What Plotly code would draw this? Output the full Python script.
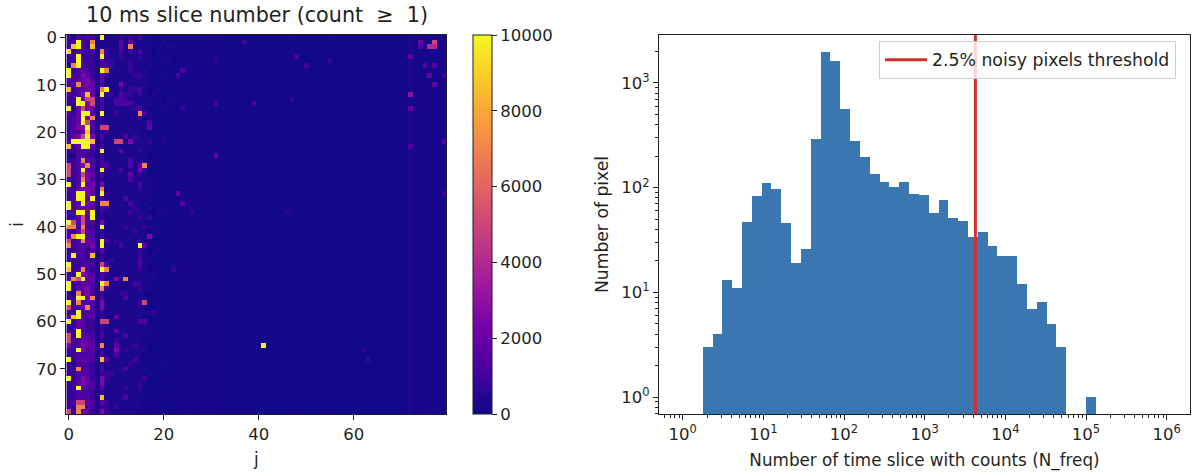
import plotly.graph_objects as go

FONT = "DejaVu Sans"
INK = "#1f1f1f"

# Heatmap: one string per row i, one character per column j (first 24 columns),
# each character is an index into level_values
level_values = [100, 300, 800, 1300, 1800, 2500, 5000, 7000, 8500, 9300, 10000]
heat_rows = [
    "213233 1a1112121301000100", "23a3271111141411 01001000", "28a3281111141711 11010110", "9233231721131213 11010000",
    "22a2221a21121112 11001100", "22a3221322111211 11000100", "17a3221332111211 01001000", "a234321a71111211 10100000",
    "a335421421111122 10001003", "3344531411111111 11010011", "2374541311151111 10000100", "82344417a1121223 10010000",
    "3235841a22132212 10100100", "22a4661311332111 10010100", "22aa561311333311 11000110", "a146541211111123 10001000",
    "324aa41a11211117 31000100", "234a571211111112 01100000", "234a631211111111 13000010", "2355a31661111111 14100000",
    "2334831221111111 00000000", "2456a51311113121 10011000", "3aaaa81211661511 12001000", "824aa41311111111 11000000",
    "2233321a11141112 01010000", "1133221211111111 10000100", "2237331311111311 10100000", "6235731331111314 71000100",
    "623a431a21131115 20001000", "6236541311111412 10010000", "2237531211111311 10001000", "a23a451511111113 01000000",
    "3245541711111112 10010100", "23aa541a21111111 11000004", "23aa4a1311113111 01001000", "a34a541771111311 10000000",
    "a344441321111121 01000100", "23aa4a1211111211 10011000", "22463a1211111112 12010000", "a636331511111111 00000000",
    "7737321a11112111 21100000", "3246331211111121 10110000", "37aa331211111111 15000000", "6237441a31211112 11000000",
    "7233351a1113111a 41000010", "2233231411111112 10010000", "2a33281211111112 10100000", "2223221212111113 11000010",
    "a223331631111113 10010000", "8237321a71111112 10000020", "22a5431321111111 10100100", "376a441311517111 11100000",
    "a234431a71111132 10001000", "a244531721111112 11000000", "2174531211122111 00010000", "22aa471311113111 10000000",
    "a273331511111112 60010000", "6234731511111111 10010000", "22a3331211111111 11200000", "38a4341211411111 00000100",
    "a244221661111113 30000000", "2243221211111111 10100000", "22a3221211411111 01000000", "62a4331311113111 11000000",
    "6234431211211111 00100000", "5235441711411121 10000100", "22a5341211512111 10000000", "2233331311311111 01001000",
    "a234431841111131 00100000", "2133321211111211 00001000", "2273321311113111 10000100", "2233321222111111 01000000",
    "a235421521111111 20000100", "2245431511111112 10001000", "22a4331411112112 00100000", "2233321211111111 00001000",
    "2233321811113111 10000100", "2366431421111111 01000000", "2277331221211111 00100000", "6274421521111111 00010000",
]

# Faint level of each column from j=24 to j=79 (the vertical stripes)
far_column_level = [180, 170, 170, 160, 180, 170, 170, 260, 150, 140, 130, 130, 140, 150, 130, 150, 120, 110, 110, 110,
                    110, 110, 120, 190, 110, 110, 110, 100, 100, 100, 110, 170, 100, 100, 100, 100, 100, 100, 110, 100,
                    100, 110, 100, 100, 110, 110, 120, 130, 290, 150, 190, 170, 210, 220, 190, 210]

# Scattered brighter pixels further right
far_i = [1, 2, 2, 1, 2, 4, 12, 15, 6, 6, 8, 10, 8, 4, 6, 5, 1, 5, 14, 25, 14, 7, 15, 35, 22, 23, 33, 13, 37, 37, 68, 66, 65]
far_j = [77, 76, 77, 74, 74, 72, 72, 72, 75, 77, 76, 77, 79, 48, 50, 55, 37, 31, 31, 31, 39, 24, 24, 24, 79, 72, 79, 47, 46, 26, 63, 62, 41]
far_val = [5000, 4000, 4000, 2000, 1500, 1800, 3000, 2000, 1500, 1500, 1800, 1800, 1000, 1200, 1000, 800, 1000, 800, 1100,
           1800, 1200, 1200, 800, 1500, 1200, 1500, 900, 700, 600, 600, 900, 700, 10000]

# Histogram of N_freq
bin_edges = [1.77, 2.34, 3.10, 4.11, 5.44, 7.19, 9.52, 12.6, 16.7, 22.1, 29.2, 38.7, 51.2, 67.8, 89.8, 118.9, 157.3, 208.2,
             275.7, 364.9, 483.1, 639.3, 846.3, 1120, 1483, 1963, 2599, 3440, 4554, 6029, 7980, 10563, 13982, 18513, 24506,
             32434, 42934, 56832, 75229, 99585, 131826]
bin_counts = [3, 4, 13, 11, 47, 83, 110, 98, 46, 19, 26, 291, 1985, 1620, 567, 280, 197, 136, 114, 102, 112, 87, 85,
              57, 77, 51, 48, 34, 38, 28, 22, 22, 12, 7, 8, 5, 3, 0, 0, 1]
threshold = 4250

z = []
for row in heat_rows:
    z.append([level_values[int(ch, 16)] for ch in row.replace(" ", "")] + list(far_column_level))
for i, j, v in zip(far_i, far_j, far_val):
    z[i][j] = v

# Plot area in page pixels, everything below is placed relative to it
W, H = 1200, 476
L, R, T, B = 66, 1190, 35, 414


def px_x(p):
    return (p - L) / (R - L)


def px_y(p):
    return (B - p) / (B - T)


fig = go.Figure()

fig.add_trace(go.Heatmap(
    z=z,
    colorscale="Plasma",
    zmin=0,
    zmax=10000,
    showlegend=False,
    colorbar=dict(
        x=px_x(472.7), xanchor="left", xpad=0,
        y=1, yanchor="top", ypad=0,
        len=1, thickness=19,
        outlinecolor=INK, outlinewidth=1,
        ticks="outside", ticklen=5, tickcolor=INK,
        tickvals=[0, 2000, 4000, 6000, 8000, 10000], tickformat="d",
        tickfont=dict(family=FONT, size=16.5, color=INK),
    ),
    xaxis="x",
    yaxis="y",
))

fig.add_trace(go.Bar(
    x=bin_edges[:-1],
    y=bin_counts,
    width=[b - a for a, b in zip(bin_edges[:-1], bin_edges[1:])],
    offset=0,
    marker=dict(color="#3a76af", line=dict(width=0)),
    showlegend=False,
    xaxis="x2",
    yaxis="y2",
))

fig.add_trace(go.Scatter(
    x=[threshold, threshold],
    y=[0.6, 3000],
    mode="lines",
    line=dict(color="#d3302a", width=3),
    name="2.5% noisy pixels threshold",
    xaxis="x2",
    yaxis="y2",
))

axis_style = dict(showline=True, linecolor=INK, linewidth=1, mirror=True, ticks="outside", ticklen=5, tickcolor=INK,
                  showgrid=False, zeroline=False, tickfont=dict(family=FONT, size=16.5, color=INK))
decades = [1, 10, 100, 1000, 10000, 100000, 1000000]
minor_x = [m * d for d in [0.1] + decades for m in range(2, 10)]
minor_y = [m * d for d in [0.1] + decades[:4] for m in range(2, 10)]

fig.update_layout(
    width=W,
    height=H,
    margin=dict(l=L, r=W - R, t=T, b=H - B),
    paper_bgcolor="white",
    plot_bgcolor="white",
    bargap=0,
    font=dict(family=FONT, color=INK),
    xaxis=dict(
        domain=[px_x(66.3), px_x(446.3)], range=[-0.5, 79.5], tickvals=[0, 20, 40, 60],
        title=dict(text="j", font=dict(family=FONT, size=16.8, color=INK), standoff=10), **axis_style,
    ),
    yaxis=dict(
        domain=[0, 1], range=[79.5, -0.5], tickvals=list(range(0, 80, 10)),
        title=dict(text="i", font=dict(family=FONT, size=16.8, color=INK), standoff=8), **axis_style,
    ),
    xaxis2=dict(
        domain=[px_x(659), 1], type="log", range=[-0.294, 6.289], anchor="y2",
        tickvals=decades, ticktext=[f"10<sup>{k}</sup>" for k in range(7)],
        minor=dict(ticks="outside", ticklen=3, tickcolor=INK, tickvals=minor_x),
        title=dict(text="Number of time slice with counts (N_freq)", font=dict(family=FONT, size=16.8, color=INK), standoff=11),
        **axis_style,
    ),
    yaxis2=dict(
        domain=[0, 1], type="log", range=[-0.162, 3.458], anchor="x2",
        tickvals=decades[:4], ticktext=[f"10<sup>{k}</sup>" for k in range(4)],
        minor=dict(ticks="outside", ticklen=3, tickcolor=INK, tickvals=minor_y),
        title=dict(text="Number of pixel", font=dict(family=FONT, size=17.2, color=INK), standoff=8),
        **axis_style,
    ),
    legend=dict(
        x=px_x(879), xanchor="left", y=px_y(41), yanchor="top",
        bgcolor="rgba(255,255,255,0.8)", bordercolor="#cccccc", borderwidth=1,
        font=dict(family=FONT, size=17.3, color=INK), itemwidth=42,
    ),
    annotations=[dict(
        text="10 ms slice number (count  ≥  1)", xref="paper", yref="paper",
        x=px_x(257), y=px_y(29), xanchor="center", yanchor="bottom", showarrow=False,
        font=dict(family=FONT, size=20.7, color=INK),
    )],
)

fig.write_html("out.html", config=dict(displayModeBar=False), post_script="document.body.style.margin='0';")
